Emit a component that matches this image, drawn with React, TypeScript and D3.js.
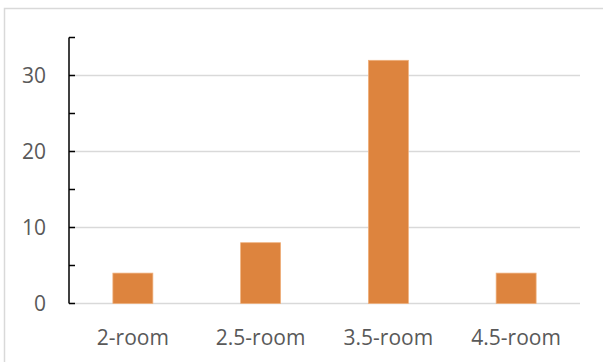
import React from 'react';
import * as d3 from 'd3';

const categories = ['2-room', '2.5-room', '3.5-room', '4.5-room'];
const counts = [4, 8, 32, 4];
const yTicks = [0, 10, 20, 30];
const yMinorTicks = [0, 5, 10, 15, 20, 25, 30, 35];

export default function App() {
  const W = 603;
  const H = 362;
  const left = 69;
  const right = 580;
  const top = 37.5;
  const bottom = 303.5;

  const x = d3.scaleBand<string>()
    .domain(categories)
    .range([left, right])
    .paddingInner(0.687)
    .paddingOuter(0.3435);

  const y = d3.scaleLinear().domain([0, 35]).range([bottom, top]);

  const font = "'Open Sans', 'DejaVu Sans', sans-serif";

  return (
    <svg width={W} height={H} style={{ position: 'absolute', left: 0, top: 0, background: '#fff' }}>
      {/* chart frame, cut off on the right and bottom */}
      <rect x={4.5} y={8.5} width={700} height={500} fill="#fff" stroke="#d9d9d9" strokeWidth={1.5} />

      {/* gridlines */}
      {yTicks.map(t => (
        <line key={'g' + t} x1={left} x2={right} y1={y(t)} y2={y(t)} stroke="#d9d9d9" strokeWidth={1.5} />
      ))}

      {/* bars */}
      {counts.map((v, i) => (
        <rect
          key={categories[i]}
          x={x(categories[i])}
          y={y(v)}
          width={x.bandwidth()}
          height={y(0) - y(v)}
          fill="#dd843e"
          stroke="#efb07c"
          strokeWidth={0.75}
        />
      ))}

      {/* y axis */}
      <line x1={left} x2={left} y1={y(35)} y2={y(0)} stroke="#000" strokeWidth={1.5} />
      {yMinorTicks.map(t => (
        <line key={'t' + t} x1={left} x2={left + 6} y1={y(t)} y2={y(t)} stroke="#000" strokeWidth={1.5} />
      ))}
      {yTicks.map(t => (
        <text key={'l' + t} x={46} y={y(t)} dy="0.37em" textAnchor="end" fontFamily={font} fontSize={21} fill="#595959">
          {t}
        </text>
      ))}

      {/* x labels */}
      {categories.map(c => (
        <text key={'x' + c} x={(x(c) ?? 0) + x.bandwidth() / 2} y={344.5} textAnchor="middle" fontFamily={font} fontSize={21} fill="#595959">
          {c}
        </text>
      ))}
    </svg>
  );
}
